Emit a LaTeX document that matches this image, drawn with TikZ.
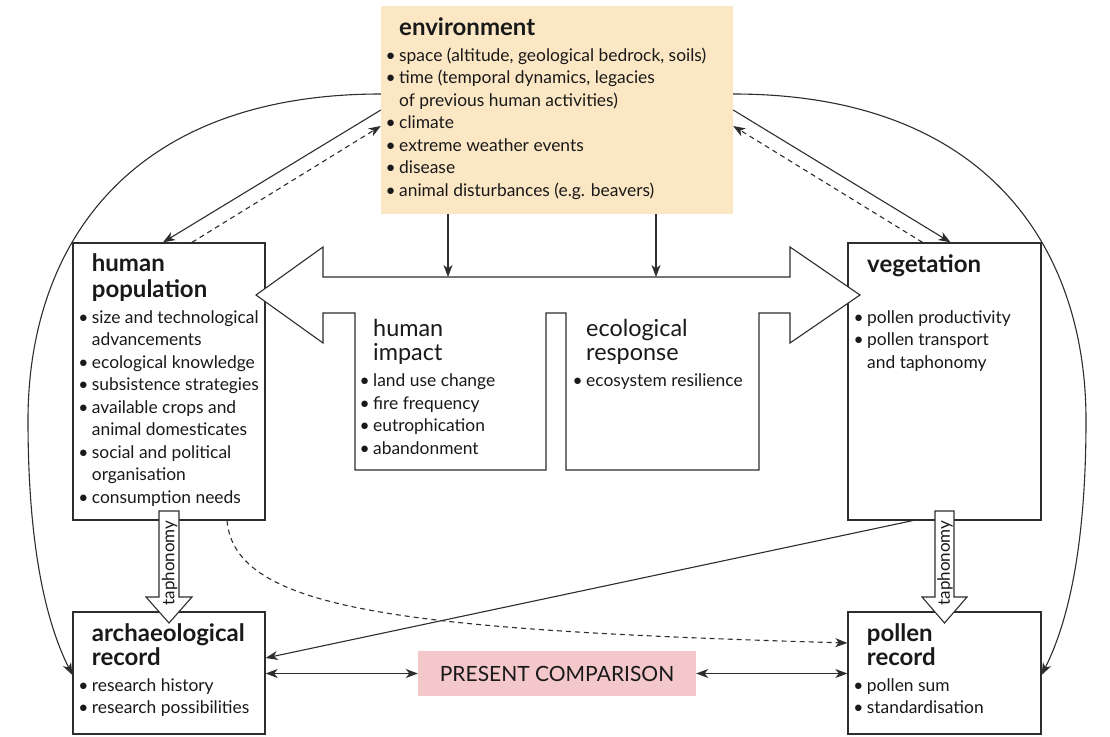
\documentclass[tikz,border=0pt]{standalone}
\usepackage{fontspec}
\setmainfont{Lato}
\usetikzlibrary{arrows.meta}
\definecolor{envfill}{RGB}{252,231,197}
\definecolor{pcfill}{RGB}{244,199,203}
\definecolor{ln}{RGB}{45,45,45}
\definecolor{tx}{RGB}{25,25,25}
\newcommand\bul{\llap{\textbullet\hspace{3.5pt}}}
\newcommand\txtblock[1]{\vtop{\halign{##\hfil\cr#1\crcr}}}
\newcommand\ttlfont{\fontsize{24}{25.5}\selectfont\bfseries}
\newcommand\bdyfont{\fontsize{17.4}{22.5}\selectfont}
\newcommand\bigfont{\fontsize{23.4}{24.7}\selectfont}
\begin{document}
\begin{tikzpicture}[x=1pt,y=-1pt,
  box/.style={draw=ln, line width=1.3pt, inner sep=0pt, fill=white},
  conn/.style={draw=ln, line width=1.1pt, -{Stealth[length=12pt,width=9pt,inset=3.5pt]}},
  dconn/.style={draw=ln, line width=1.1pt, {Stealth[length=12pt,width=9pt,inset=3.5pt]}-{Stealth[length=12pt,width=9pt,inset=3.5pt]}},
  dashline/.style={dash pattern=on 5pt off 4pt},
  txt/.style={anchor=base west, inner sep=0pt, text=tx},
  hollow/.style={draw=ln, line width=1.1pt, fill=white, line join=miter}]
\useasboundingbox (0,0) rectangle (1110,736);

% boxes
\node[inner sep=0pt, fill=envfill, minimum width=352, minimum height=208] (env) at (557,110) {};
\node[box, minimum width=192, minimum height=277] (hp) at (169,381.5) {};
\node[box, minimum width=193, minimum height=277] (veg) at (944.5,381.5) {};
\node[box, minimum width=192, minimum height=122] (arch) at (169,673) {};
\node[box, minimum width=193, minimum height=122] (pol) at (944.5,673) {};
\node[inner sep=0pt, fill=pcfill, minimum width=278, minimum height=45, text=tx,
      font=\fontsize{21}{25}\selectfont] (pc) at (557,673.5) {PRESENT COMPARISON};

% central double arrow with the two boxes
\draw[hollow] (323,313) -- (355,313) -- (355,470) -- (546,470) -- (546,313) -- (566,313)
  -- (566,470) -- (759,470) -- (759,313) -- (790,313) -- (790,343) -- (860,295)
  -- (790,247) -- (790,277) -- (323,277) -- (323,247) -- (256,295) -- (323,343) -- cycle;

\coordinate (s1) at (448,277);
\coordinate (s2) at (656,277);
\draw[conn] (env.south -| s1) -- (s1);
\draw[conn] (env.south -| s2) -- (s2);

% environment <-> human population / vegetation
\draw[conn] (env.west) -- ([xshift=-6pt]hp.north);
\draw[conn, dashline] ([xshift=23pt]hp.north) -- ([yshift=-16pt]env.west);
\draw[conn] (env.east) -- ([xshift=6pt]veg.north);
\draw[conn, dashline] ([xshift=-22pt]veg.north) -- ([yshift=-16pt]env.east);

% long curves
\draw[conn] ([yshift=16pt]env.west) .. controls (125,94) and (28,250) .. (28,420)
  .. controls (28,560) and (50,630) .. ([yshift=-2pt]arch.west);
\draw[conn] ([yshift=16pt]env.east) .. controls (989,94) and (1086,250) .. (1086,420)
  .. controls (1086,560) and (1064,630) .. ([yshift=-2pt]pol.east);

% cross links
\draw[conn] ([xshift=-32pt]veg.south) -- ([yshift=15pt]arch.east);
\draw[conn, dashline] ([xshift=58pt]hp.south) .. controls (235,610) and (400,630) .. ([yshift=30pt]pol.west);

% present comparison
\draw[dconn] (arch.east |- pc.west) -- (pc.west);
\draw[dconn] (pc.east) -- (pol.west |- pc.east);

% taphonomy arrows
\draw[hollow] (159,511) -- (179,511) -- (179,597) -- (192,597) -- (169,623) -- (146,597) -- (159,597) -- cycle;
\node[rotate=90, inner sep=0pt, text=tx, font=\fontsize{17}{18}\selectfont] (tap1) at (169.5,563) {taphonomy};
\draw[hollow] (935,511) -- (954,511) -- (954,597) -- (967,597) -- (944.5,623) -- (922,597) -- (935,597) -- cycle;
\node[rotate=90, inner sep=0pt, text=tx, font=\fontsize{17}{18}\selectfont] (tap2) at (945,563) {taphonomy};

% texts
\node[txt, font=\ttlfont] (envt) at (399,35) {environment};
\node[txt, font=\bdyfont] (envl) at (399,61) {\txtblock{\bul space (altitude, geological bedrock, soils)\cr
  \bul time (temporal dynamics, legacies\cr of previous human activities)\cr
  \bul climate\cr \bul extreme weather events\cr \bul disease\cr \bul animal disturbances (e.g. beavers)\cr}};

\node[txt, font=\ttlfont] (hpt) at (91.7,271.7) {\txtblock{human\cr population\cr}};
\node[txt, font=\bdyfont] (hpl) at (91.7,323) {\txtblock{\bul size and technological\cr advancements\cr
  \bul ecological knowledge\cr \bul subsistence strategies\cr \bul available crops and\cr animal domesticates\cr
  \bul social and political\cr organisation\cr \bul consumption needs\cr}};

\node[txt, font=\ttlfont] (vegt) at (867,272.7) {vegetation};
\node[txt, font=\bdyfont] (vegl) at (867,323) {\txtblock{\bul pollen productivity\cr \bul pollen transport\cr and taphonomy\cr}};

\node[txt, font=\bigfont] (hit) at (373,336) {\txtblock{human\cr impact\cr}};
\node[txt, font=\bdyfont] (hil) at (373,386.7) {\txtblock{\bul land use change\cr \bul fire frequency\cr \bul eutrophication\cr \bul abandonment\cr}};

\node[txt, font=\bigfont] (ert) at (586,336) {\txtblock{ecological\cr response\cr}};
\node[txt, font=\bdyfont] (erl) at (586,386.7) {\txtblock{\bul ecosystem resilience\cr}};

\node[txt, font=\fontsize{24}{23.5}\selectfont\bfseries] (art) at (91.7,641.7) {\txtblock{archaeological\cr record\cr}};
\node[txt, font=\fontsize{17.4}{21.5}\selectfont] (arl) at (91.7,691.7) {\txtblock{\bul research history\cr \bul research possibilities\cr}};

\node[txt, font=\fontsize{24}{23.5}\selectfont\bfseries] (pot) at (866.7,641.5) {\txtblock{pollen\cr record\cr}};
\node[txt, font=\fontsize{17.4}{21.5}\selectfont] (pol2) at (866.7,691.7) {\txtblock{\bul pollen sum\cr \bul standardisation\cr}};
\end{tikzpicture}
\end{document}
